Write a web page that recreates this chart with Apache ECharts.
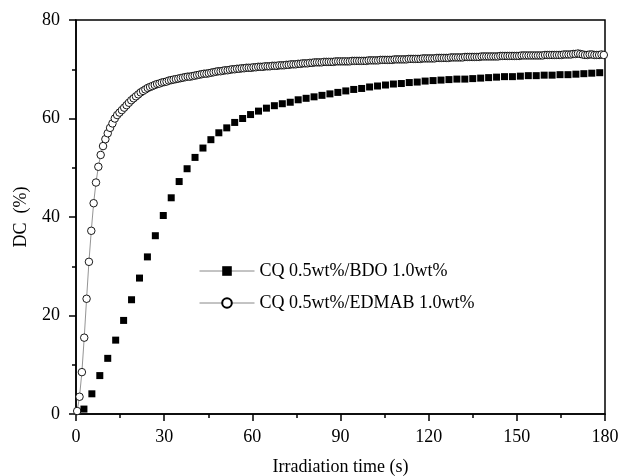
<!DOCTYPE html>
<html>
<head>
<meta charset="utf-8">
<script src="https://cdn.jsdelivr.net/npm/echarts@6/dist/echarts.min.js"></script>
<style>html,body{margin:0;padding:0;background:#fff;}#c{width:622px;height:476px;}</style>
</head>
<body>
<div id="c"></div>
<script>
var seriesNames = ['CQ 0.5wt%/BDO 1.0wt%', 'CQ 0.5wt%/EDMAB 1.0wt%'];
var xTitle = 'Irradiation time (s)';
var yTitle = 'DC  (%)';

// BDO series (filled squares)
var bdoTime = [2.7,5.4,8.1,10.8,13.5,16.2,18.9,21.6,24.3,27.0,
  29.7,32.4,35.1,37.8,40.5,43.2,45.9,48.6,51.3,54.0,
  56.7,59.4,62.1,64.8,67.5,70.2,72.9,75.6,78.3,81.0,
  83.7,86.4,89.1,91.8,94.5,97.2,99.9,102.6,105.3,108.0,
  110.7,113.4,116.1,118.8,121.5,124.2,126.9,129.6,132.3,135.0,
  137.7,140.4,143.1,145.8,148.5,151.2,153.9,156.6,159.3,162.0,
  164.7,167.4,170.1,172.8,175.5,178.2];
var bdoDC = [1.0,4.1,7.8,11.3,15.0,19.0,23.2,27.6,31.9,36.2,
  40.3,43.9,47.2,49.8,52.1,54.0,55.7,57.1,58.1,59.2,
  60.0,60.8,61.5,62.1,62.6,63.0,63.3,63.8,64.1,64.4,
  64.7,65.0,65.3,65.6,65.9,66.1,66.4,66.6,66.8,67.0,
  67.1,67.3,67.4,67.6,67.7,67.8,67.9,68.0,68.0,68.1,
  68.2,68.3,68.4,68.5,68.5,68.6,68.7,68.7,68.8,68.8,
  68.9,68.9,69.0,69.1,69.2,69.3];

// EDMAB series (open circles)
var edmabTime = [0.4,1.2,2.0,2.8,3.6,4.4,5.2,6.0,6.8,7.6,
  8.4,9.2,10.0,10.8,11.6,12.4,13.2,14.0,14.8,15.6,
  16.4,17.2,18.0,18.8,19.6,20.4,21.2,22.0,22.8,23.6,
  24.4,25.2,26.0,26.8,27.6,28.4,29.2,30.0,30.8,31.6,
  32.4,33.2,34.0,34.8,35.6,36.4,37.2,38.0,38.8,39.6,
  40.4,41.2,42.0,42.8,43.6,44.4,45.2,46.0,46.8,47.6,
  48.4,49.2,50.0,50.8,51.6,52.4,53.2,54.0,54.8,55.6,
  56.4,57.2,58.0,58.8,59.6,60.4,61.2,62.0,62.8,63.6,
  64.4,65.2,66.0,66.8,67.6,68.4,69.2,70.0,70.8,71.6,
  72.4,73.2,74.0,74.8,75.6,76.4,77.2,78.0,78.8,79.6,
  80.4,81.2,82.0,82.8,83.6,84.4,85.2,86.0,86.8,87.6,
  88.4,89.2,90.0,90.8,91.6,92.4,93.2,94.0,94.8,95.6,
  96.4,97.2,98.0,98.8,99.6,100.4,101.2,102.0,102.8,103.6,
  104.4,105.2,106.0,106.8,107.6,108.4,109.2,110.0,110.8,111.6,
  112.4,113.2,114.0,114.8,115.6,116.4,117.2,118.0,118.8,119.6,
  120.4,121.2,122.0,122.8,123.6,124.4,125.2,126.0,126.8,127.6,
  128.4,129.2,130.0,130.8,131.6,132.4,133.2,134.0,134.8,135.6,
  136.4,137.2,138.0,138.8,139.6,140.4,141.2,142.0,142.8,143.6,
  144.4,145.2,146.0,146.8,147.6,148.4,149.2,150.0,150.8,151.6,
  152.4,153.2,154.0,154.8,155.6,156.4,157.2,158.0,158.8,159.6,
  160.4,161.2,162.0,162.8,163.6,164.4,165.2,166.0,166.8,167.6,
  168.4,169.2,170.0,170.8,171.6,172.4,173.2,174.0,174.8,175.6,
  176.4,177.2,178.0,178.8,179.6];
var edmabDC = [0.6,3.5,8.5,15.5,23.4,30.9,37.2,42.8,47.0,50.2,
  52.6,54.4,55.8,57.0,58.1,59.0,60.0,60.7,61.2,61.7,
  62.2,62.7,63.2,63.7,64.1,64.5,64.9,65.3,65.6,65.9,
  66.2,66.4,66.6,66.8,67.0,67.1,67.3,67.4,67.5,67.7,
  67.8,67.9,68.0,68.1,68.2,68.3,68.4,68.5,68.5,68.6,
  68.7,68.8,68.9,69.0,69.1,69.1,69.2,69.3,69.4,69.5,
  69.6,69.6,69.7,69.8,69.8,69.9,70.0,70.0,70.1,70.1,
  70.2,70.2,70.3,70.3,70.3,70.4,70.4,70.5,70.5,70.5,
  70.6,70.6,70.6,70.7,70.7,70.7,70.8,70.8,70.8,70.9,
  70.9,71.0,71.0,71.0,71.1,71.1,71.2,71.2,71.2,71.3,
  71.3,71.4,71.4,71.4,71.4,71.5,71.5,71.5,71.5,71.5,
  71.6,71.6,71.6,71.6,71.6,71.6,71.6,71.7,71.7,71.7,
  71.7,71.7,71.7,71.7,71.8,71.8,71.8,71.8,71.8,71.9,
  71.9,71.9,71.9,71.9,71.9,72.0,72.0,72.0,72.0,72.0,
  72.0,72.1,72.1,72.1,72.1,72.1,72.1,72.2,72.2,72.2,
  72.2,72.2,72.2,72.3,72.3,72.3,72.3,72.3,72.3,72.4,
  72.4,72.4,72.4,72.4,72.4,72.5,72.5,72.5,72.5,72.5,
  72.5,72.5,72.6,72.6,72.6,72.6,72.6,72.6,72.6,72.6,
  72.7,72.7,72.7,72.7,72.7,72.7,72.7,72.7,72.7,72.8,
  72.8,72.8,72.8,72.8,72.8,72.8,72.8,72.8,72.8,72.9,
  72.9,72.9,72.9,72.9,72.9,72.9,72.9,73.0,73.0,73.0,
  73.0,73.1,73.1,73.2,73.1,73.0,72.9,72.9,73.0,73.0,
  72.9,72.9,72.9,73.0,72.9];

function pairs(xs, ys) {
  var out = [];
  for (var i = 0; i < xs.length; i++) out.push([xs[i], ys[i]]);
  return out;
}

var FONT = '"Liberation Serif", "Times New Roman", serif';
var chart = echarts.init(document.getElementById('c'), null, {renderer: 'canvas'});
chart.setOption({
  animation: false,
  backgroundColor: '#fff',
  textStyle: {fontFamily: FONT, color: '#000'},
  grid: {left: 76, right: 17, top: 20, bottom: 62, containLabel: false, outerBoundsMode: 'none',
    show: true, borderColor: '#000', borderWidth: 1.5, backgroundColor: 'transparent'},
  legend: {
    orient: 'vertical',
    left: 194,
    top: 257,
    itemWidth: 55,
    itemHeight: 12,
    itemGap: 14,
    textStyle: {fontFamily: FONT, fontSize: 18, color: '#000'},
    lineStyle: {color: '#888', width: 1, opacity: 1},
    data: [seriesNames[0], seriesNames[1]]
  },
  xAxis: {
    type: 'value', min: 0, max: 180, interval: 30,
    name: xTitle, nameLocation: 'middle', nameGap: 44,
    nameTextStyle: {fontFamily: FONT, fontSize: 18, color: '#000'},
    axisLine: {show: true, onZero: false, lineStyle: {color: '#000', width: 1.5}},
    axisTick: {show: true, inside: false, length: 7, lineStyle: {color: '#000', width: 1.5}},
    minorTick: {show: true, splitNumber: 2, length: 4, lineStyle: {color: '#000', width: 1.5}},
    axisLabel: {fontFamily: FONT, fontSize: 18, color: '#000', margin: 14},
    splitLine: {show: false}
  },
  yAxis: {
    type: 'value', min: 0, max: 80, interval: 20,
    name: yTitle, nameLocation: 'middle', nameGap: 46,
    nameTextStyle: {fontFamily: FONT, fontSize: 18, color: '#000'},
    axisLine: {show: true, onZero: false, lineStyle: {color: '#000', width: 1.5}},
    axisTick: {show: true, inside: false, length: 7, lineStyle: {color: '#000', width: 1.5}},
    minorTick: {show: true, splitNumber: 2, length: 4, lineStyle: {color: '#000', width: 1.5}},
    axisLabel: {fontFamily: FONT, fontSize: 18, color: '#000', margin: 16},
    splitLine: {show: false}
  },
  series: [
    {
      name: seriesNames[0],
      type: 'line',
      data: pairs(bdoTime, bdoDC),
      symbol: 'rect',
      symbolSize: 7,
      showSymbol: true,
      lineStyle: {width: 0, opacity: 0, color: '#888'},
      itemStyle: {color: '#000', borderColor: '#000', borderWidth: 0},
      clip: false,
      z: 3
    },
    {
      name: seriesNames[1],
      type: 'line',
      data: pairs(edmabTime, edmabDC),
      symbol: 'circle',
      symbolSize: 7.5,
      showSymbol: true,
      lineStyle: {width: 0.7, color: '#666'},
      itemStyle: {color: '#fff', borderColor: '#000', borderWidth: 0.9},
      clip: false,
      z: 2
    }
  ]
});
</script>
</body>
</html>
